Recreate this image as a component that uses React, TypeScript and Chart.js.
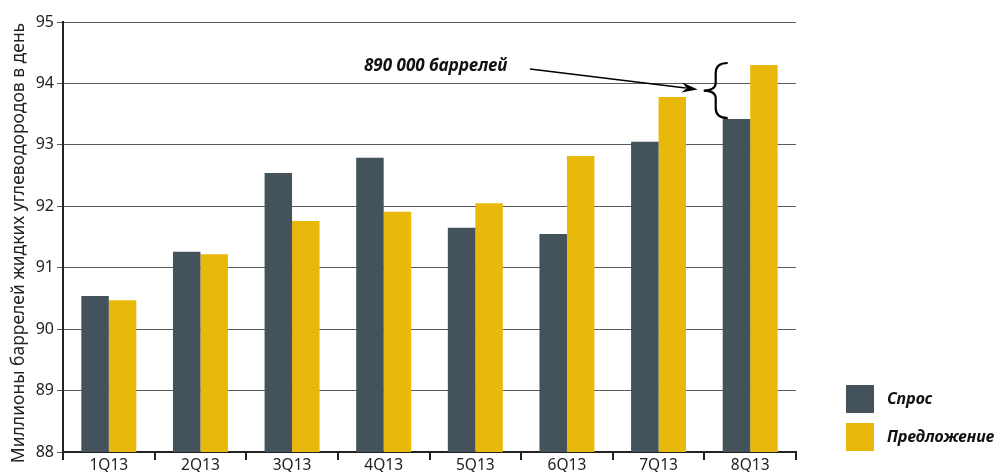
import React, { useEffect, useRef } from "react";
import { Chart, registerables } from "chart.js";

Chart.register(...registerables);

const categories = ["1Q13", "2Q13", "3Q13", "4Q13", "5Q13", "6Q13", "7Q13", "8Q13"];
const demand = [90.54, 91.26, 92.54, 92.79, 91.65, 91.55, 93.05, 93.42];
const supply = [90.47, 91.22, 91.76, 91.91, 92.05, 92.82, 93.78, 94.3];
const seriesNames = ["Спрос", "Предложение"];
const yTitle = "Миллионы баррелей жидких углеводородов в день";
const annotationText = "890 000 баррелей";

const DARK = "#44525B";
const YELLOW = "#E8B80A";
const FONT = "'Noto Sans', sans-serif";

const overlayPlugin = {
  id: "overlay",
  afterDraw(chart: any) {
    const ctx = chart.ctx;
    const area = chart.chartArea;
    ctx.save();
    // Y axis title
    ctx.fillStyle = "#222";
    ctx.font = `17.5px ${FONT}`;
    ctx.textAlign = "center";
    ctx.textBaseline = "middle";
    ctx.translate(19, (area.top + area.bottom) / 2 + 6);
    ctx.rotate(-Math.PI / 2);
    ctx.fillText(yTitle, 0, 0);
    ctx.restore();

    // Legend
    ctx.save();
    const ds = chart.data.datasets;
    ds.forEach((d: any, i: number) => {
      const top = 385 + i * 38;
      ctx.fillStyle = d.backgroundColor;
      ctx.fillRect(846, top, 28, 28);
      ctx.fillStyle = "#111";
      ctx.font = `italic bold 16px ${FONT}`;
      ctx.textAlign = "left";
      ctx.textBaseline = "middle";
      ctx.fillText(d.label, 887, top + 14);
    });
    ctx.restore();

    // Brace + arrow annotation on last category
    const last = categories.length - 1;
    const darkBar = chart.getDatasetMeta(0).data[last];
    const yellowBar = chart.getDatasetMeta(1).data[last];
    if (!darkBar || !yellowBar) return;
    const yTop = yellowBar.y - 2;
    const yBot = darkBar.y - 1;
    const x0 = darkBar.x - darkBar.width / 2 + 5;
    const xm = x0 - 12;
    const xt = x0 - 24;
    const ym = (yTop + yBot) / 2;
    ctx.save();
    ctx.strokeStyle = "#000";
    ctx.lineWidth = 2.2;
    ctx.beginPath();
    ctx.moveTo(x0, yTop);
    ctx.quadraticCurveTo(xm, yTop, xm, yTop + 10);
    ctx.lineTo(xm, ym - 8);
    ctx.quadraticCurveTo(xm, ym, xt, ym);
    ctx.quadraticCurveTo(xm, ym, xm, ym + 8);
    ctx.lineTo(xm, yBot - 10);
    ctx.quadraticCurveTo(xm, yBot, x0, yBot);
    ctx.stroke();

    // arrow
    const sx = 530, sy = 69;
    const tx = xt - 6, ty = ym - 1;
    const ang = Math.atan2(ty - sy, tx - sx);
    ctx.lineWidth = 1.5;
    ctx.beginPath();
    ctx.moveTo(sx, sy);
    ctx.lineTo(tx - 12 * Math.cos(ang), ty - 12 * Math.sin(ang));
    ctx.stroke();
    ctx.fillStyle = "#000";
    ctx.beginPath();
    ctx.moveTo(tx, ty);
    ctx.lineTo(tx - 16 * Math.cos(ang) + 5 * Math.sin(ang), ty - 16 * Math.sin(ang) - 5 * Math.cos(ang));
    ctx.lineTo(tx - 11 * Math.cos(ang), ty - 11 * Math.sin(ang));
    ctx.lineTo(tx - 16 * Math.cos(ang) - 5 * Math.sin(ang), ty - 16 * Math.sin(ang) + 5 * Math.cos(ang));
    ctx.closePath();
    ctx.fill();

    ctx.fillStyle = "#111";
    ctx.font = `italic bold 17px ${FONT}`;
    ctx.textAlign = "left";
    ctx.textBaseline = "middle";
    ctx.fillText(annotationText, 364, 66);
    ctx.restore();
  },
};

export default function App() {
  const ref = useRef<HTMLCanvasElement | null>(null);
  useEffect(() => {
    if (!ref.current) return;
    const chart = new Chart(ref.current, {
      type: "bar",
      data: {
        labels: categories,
        datasets: [
          { label: seriesNames[0], data: demand, backgroundColor: DARK, categoryPercentage: 0.6, barPercentage: 1 },
          { label: seriesNames[1], data: supply, backgroundColor: YELLOW, categoryPercentage: 0.6, barPercentage: 1 },
        ],
      },
      options: {
        animation: false,
        responsive: false,
        layout: { padding: { left: 0, top: 22, right: 204, bottom: 0 } },
        plugins: { legend: { display: false }, tooltip: { enabled: false } },
        scales: {
          x: {
            grid: { offset: true, drawOnChartArea: false, drawTicks: true, tickLength: 8, color: "#222", lineWidth: 2 },
            border: { color: "#222", width: 2 },
            ticks: { color: "#222", font: { family: FONT, size: 15.5 }, padding: -4 },
            afterFit: (s: any) => { s.height = 20; },
          },
          y: {
            min: 88,
            max: 95,
            grid: { color: "#5a5a5a", lineWidth: 1, tickLength: 6 },
            border: { color: "#222", width: 2 },
            ticks: { stepSize: 1, color: "#222", font: { family: FONT, size: 16 }, padding: 3 },
            afterFit: (s: any) => { s.width = 63; },
          },
        },
      },
      plugins: [overlayPlugin],
    });
    return () => chart.destroy();
  }, []);
  return (
    <div style={{ position: "fixed", left: 0, top: 0, width: 1000, height: 472, background: "#fff" }}>
      <canvas ref={ref} width={1000} height={472} style={{ display: "block" }} />
    </div>
  );
}
